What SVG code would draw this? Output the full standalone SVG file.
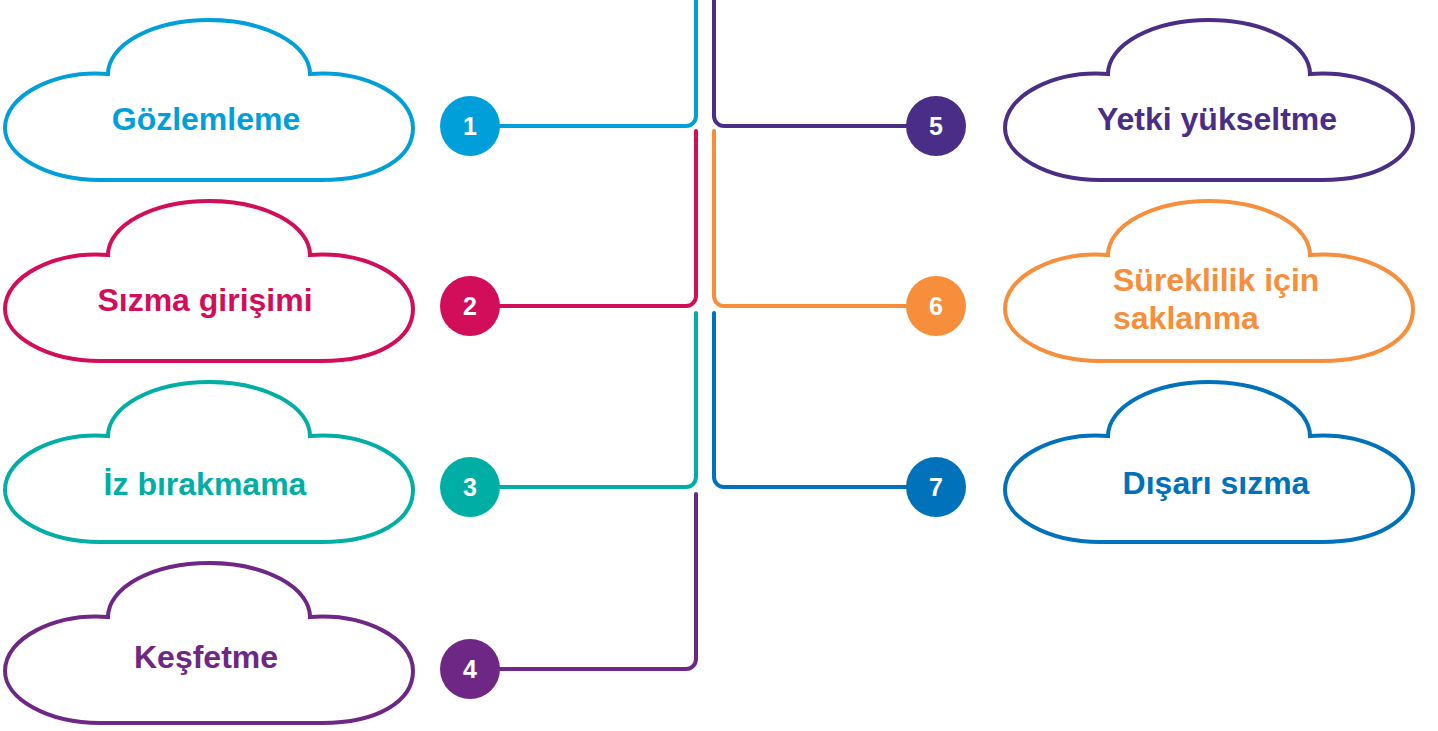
<svg xmlns="http://www.w3.org/2000/svg" xmlns:xlink="http://www.w3.org/1999/xlink" width="1438" height="731" viewBox="0 0 1438 731">
<style>
.cloud{fill:#fff;stroke-width:4}
.lbl{font-family:"Liberation Sans",Arial,sans-serif;font-weight:bold;font-size:32px;text-anchor:middle}
.num{font-family:"Liberation Sans",Arial,sans-serif;font-weight:bold;font-size:25px;text-anchor:middle;fill:#fff}
.conn path{fill:none;stroke-width:4;stroke-linecap:round}
</style>
<defs>
<path id="cl" d="M 108,74 A 101 54 0 0 1 310,74 C 365,70 413,95 413,128 C 413,158 378,180 322,180 L 100,180 C 48,180 5,156 5,128 C 5,95 55,70 108,74 Z"/>
</defs>
<rect width="1438" height="731" fill="#fff"/>
<g class="conn">
<path d="M 470,126 H 686 A 10 10 0 0 0 696,116 V -4" stroke="#009FDA"/>
<path d="M 714,-4 V 116 A 10 10 0 0 0 724,126 H 936" stroke="#4A2D87"/>
<path d="M 696,131 V 296 A 10 10 0 0 1 686,306 H 470" stroke="#D20D59"/>
<path d="M 714,131 V 296 A 10 10 0 0 0 724,306 H 936" stroke="#F68E3C"/>
<path d="M 696,313 V 477 A 10 10 0 0 1 686,487 H 470" stroke="#00AEA5"/>
<path d="M 714,313 V 477 A 10 10 0 0 0 724,487 H 936" stroke="#0071BB"/>
<path d="M 696,494 V 659 A 10 10 0 0 1 686,669 H 470" stroke="#6E2784"/>
</g>
<g id="node1">
<use href="#cl" class="cloud" stroke="#009FDA"/>
<text class="lbl" x="206" y="130" fill="#009FDA">Gözlemleme</text>
<circle cx="470" cy="126" r="30" fill="#009FDA"/>
<text class="num" x="470" y="135">1</text>
</g>
<g id="node2">
<use href="#cl" class="cloud" stroke="#D20D59" transform="translate(0,181)"/>
<text class="lbl" x="205" y="311" fill="#D20D59">Sızma girişimi</text>
<circle cx="470" cy="306" r="30" fill="#D20D59"/>
<text class="num" x="470" y="315">2</text>
</g>
<g id="node3">
<use href="#cl" class="cloud" stroke="#00AEA5" transform="translate(0,362)"/>
<text class="lbl" x="205" y="495" fill="#00AEA5">İz bırakmama</text>
<circle cx="470" cy="487" r="30" fill="#00AEA5"/>
<text class="num" x="470" y="496">3</text>
</g>
<g id="node4">
<use href="#cl" class="cloud" stroke="#6E2784" transform="translate(0,543)"/>
<text class="lbl" x="206" y="668" fill="#6E2784">Keşfetme</text>
<circle cx="470" cy="669" r="30" fill="#6E2784"/>
<text class="num" x="470" y="678">4</text>
</g>
<g id="node5">
<use href="#cl" class="cloud" stroke="#4A2D87" transform="translate(1000,0)"/>
<text class="lbl" x="1217" y="130" fill="#4A2D87">Yetki yükseltme</text>
<circle cx="936" cy="126" r="30" fill="#4A2D87"/>
<text class="num" x="936" y="135">5</text>
</g>
<g id="node6">
<use href="#cl" class="cloud" stroke="#F68E3C" transform="translate(1000,181)"/>
<text class="lbl" x="1113" y="291" fill="#F68E3C" style="text-anchor:start">Süreklilik için</text>
<text class="lbl" x="1113" y="329" fill="#F68E3C" style="text-anchor:start">saklanma</text>
<circle cx="936" cy="306" r="30" fill="#F68E3C"/>
<text class="num" x="936" y="315">6</text>
</g>
<g id="node7">
<use href="#cl" class="cloud" stroke="#0071BB" transform="translate(1000,362)"/>
<text class="lbl" x="1216" y="494" fill="#0071BB">Dışarı sızma</text>
<circle cx="936" cy="487" r="30" fill="#0071BB"/>
<text class="num" x="936" y="496">7</text>
</g>
</svg>
